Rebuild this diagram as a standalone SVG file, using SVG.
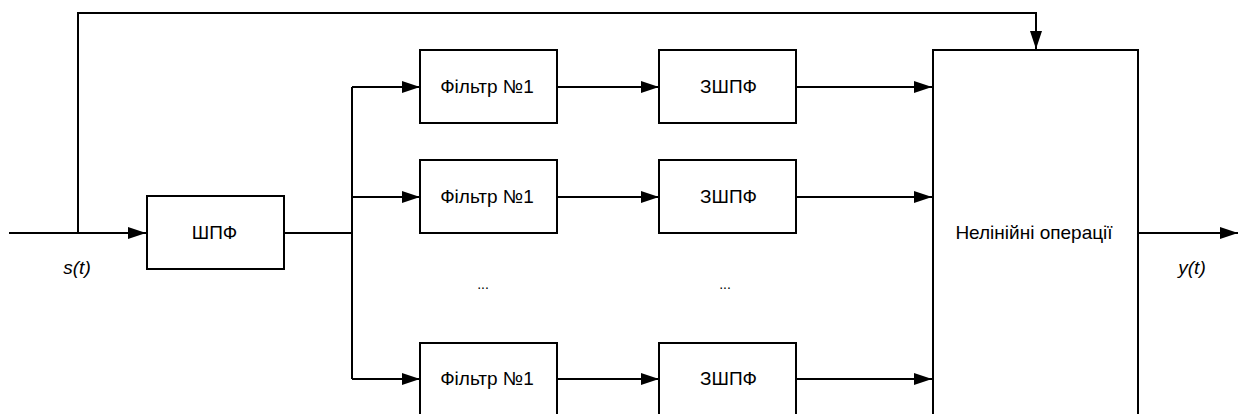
<svg xmlns="http://www.w3.org/2000/svg" width="1240" height="414" viewBox="0 0 1240 414">
<style>
.box{fill:#fff;stroke:#000;stroke-width:2}
.ln{fill:none;stroke:#000;stroke-width:2}
.t{font-family:"Liberation Sans",Arial,sans-serif;font-size:19px;fill:#000;text-anchor:middle}
.it{font-style:italic}
.dots{font-size:14px}
</style>
<defs>
<marker id="arr" markerWidth="18" markerHeight="12" refX="18" refY="6" orient="auto" markerUnits="userSpaceOnUse">
<path d="M0,0 L18,6 L0,12 Z" fill="#000"/>
</marker>
</defs>
<rect width="1240" height="414" fill="#fff"/>
<g id="connectors">
<path class="ln" d="M9,233 H146" marker-end="url(#arr)"/>
<path class="ln" d="M78,233 V13 H1036 V49" marker-end="url(#arr)"/>
<path class="ln" d="M284,233 H352"/>
<path class="ln" d="M352,87 V379"/>
<path class="ln" d="M352,87 H420" marker-end="url(#arr)"/>
<path class="ln" d="M352,197 H420" marker-end="url(#arr)"/>
<path class="ln" d="M352,379 H420" marker-end="url(#arr)"/>
<path class="ln" d="M557,87 H659" marker-end="url(#arr)"/>
<path class="ln" d="M557,197 H659" marker-end="url(#arr)"/>
<path class="ln" d="M557,379 H659" marker-end="url(#arr)"/>
<path class="ln" d="M796,87 H932" marker-end="url(#arr)"/>
<path class="ln" d="M796,197 H932" marker-end="url(#arr)"/>
<path class="ln" d="M796,379 H932" marker-end="url(#arr)"/>
<path class="ln" d="M1138,233 H1238" marker-end="url(#arr)"/>
</g>
<g id="shpf"><rect class="box" x="147" y="196" width="137" height="73"/><text class="t" x="214.5" y="239">ШПФ</text></g>
<g id="filter1"><rect class="box" x="420" y="50" width="137" height="73"/><text class="t" x="487" y="93">Фільтр №1</text></g>
<g id="filter2"><rect class="box" x="420" y="160" width="137" height="73"/><text class="t" x="487" y="203">Фільтр №1</text></g>
<g id="filter3"><rect class="box" x="420" y="343" width="137" height="73"/><text class="t" x="487" y="385">Фільтр №1</text></g>
<g id="zshpf1"><rect class="box" x="659" y="50" width="137" height="73"/><text class="t" x="728.5" y="93">ЗШПФ</text></g>
<g id="zshpf2"><rect class="box" x="659" y="160" width="137" height="73"/><text class="t" x="728.5" y="203">ЗШПФ</text></g>
<g id="zshpf3"><rect class="box" x="659" y="343" width="137" height="73"/><text class="t" x="728.5" y="385">ЗШПФ</text></g>
<g id="nonlinear"><rect class="box" x="933" y="50" width="205" height="370"/><text class="t" x="1034" y="238.5">Нелінійні операції</text></g>
<g id="labels">
<text class="t it" x="77" y="274">s(t)</text>
<text class="t it" x="1192" y="274">y(t)</text>
<text class="t dots" x="483" y="289">...</text>
<text class="t dots" x="725" y="289">...</text>
</g>
</svg>
